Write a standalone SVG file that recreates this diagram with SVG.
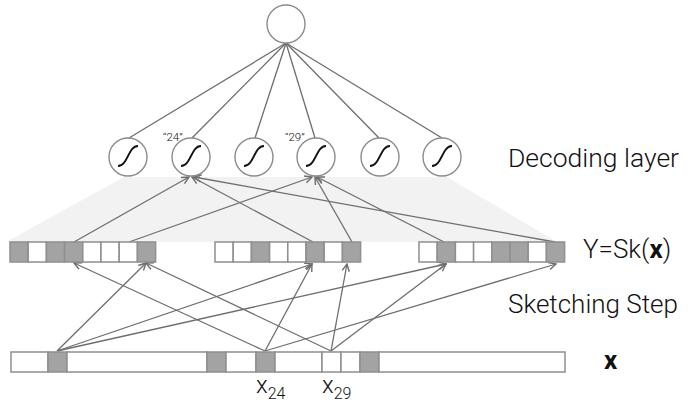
<svg xmlns="http://www.w3.org/2000/svg" width="692" height="407" viewBox="0 0 692 407">
<style>
.node circle{fill:#fff;stroke:#8c8c8c;stroke-width:1.4}
.sig{fill:none;stroke:#111;stroke-width:1.8}
.cw{fill:#fff;stroke:#8f8f8f;stroke-width:1.5}
.cg{fill:#a3a3a3;stroke:#8f8f8f;stroke-width:1.5}
.lbl{font-family:Roboto,"Liberation Sans",Arial,sans-serif;font-weight:300;fill:#111}
.b{font-weight:700}
#connectors line{stroke:#6e6e6e;stroke-width:1.3;fill:none}
#connectors .a{marker-end:url(#arr)}
</style>
<defs>
<marker id="arr" viewBox="0 0 10 10" refX="9" refY="5" markerWidth="9" markerHeight="9" orient="auto" markerUnits="userSpaceOnUse">
<path d="M1,1 L9,5 L1,9" fill="none" stroke="#6e6e6e" stroke-width="1.6"/>
</marker>
</defs>
<rect width="692" height="407" fill="#fff"/>
<polygon id="band" points="124,177 447,177 557,242 6,242" fill="#f2f2f2"/>

<g id="connectors">
<line x1="286" y1="43" x2="129" y2="138"/>
<line x1="286" y1="43" x2="192" y2="138"/>
<line x1="286" y1="43" x2="255" y2="138"/>
<line x1="286" y1="43" x2="315" y2="138"/>
<line x1="286" y1="43" x2="379" y2="138"/>
<line x1="286" y1="43" x2="442" y2="138"/>
<line class="a" x1="74" y1="242" x2="189" y2="177"/>
<line class="a" x1="313" y1="242" x2="192" y2="177"/>
<line class="a" x1="555" y1="242" x2="194" y2="177"/>
<line class="a" x1="129" y1="242" x2="312" y2="177"/>
<line class="a" x1="352" y1="242" x2="315" y2="177"/>
<line class="a" x1="444" y1="242" x2="317" y2="177"/>
<line class="a" x1="57" y1="351" x2="146" y2="263"/>
<line class="a" x1="57" y1="351" x2="312" y2="264"/>
<line class="a" x1="57" y1="351" x2="446" y2="264"/>
<line class="a" x1="265" y1="351" x2="74" y2="263"/>
<line class="a" x1="265" y1="351" x2="312" y2="264"/>
<line class="a" x1="265" y1="351" x2="556" y2="264"/>
<line class="a" x1="331" y1="351" x2="146" y2="263"/>
<line class="a" x1="331" y1="351" x2="347" y2="264"/>
<line class="a" x1="331" y1="351" x2="446" y2="264"/>
</g>

<g id="top" class="node"><circle cx="286" cy="24" r="19"/></g>

<g id="d1" class="node" transform="translate(128,157)"><circle r="19"/><path class="sig" d="M-10,9 C0,9 0,-11 10,-11"/></g>
<g id="d2" class="node" transform="translate(191,157)"><circle r="19"/><path class="sig" d="M-10,9 C0,9 0,-11 10,-11"/></g>
<g id="d3" class="node" transform="translate(254,157)"><circle r="19"/><path class="sig" d="M-10,9 C0,9 0,-11 10,-11"/></g>
<g id="d4" class="node" transform="translate(316,157)"><circle r="19"/><path class="sig" d="M-10,9 C0,9 0,-11 10,-11"/></g>
<g id="d5" class="node" transform="translate(380,157)"><circle r="19"/><path class="sig" d="M-10,9 C0,9 0,-11 10,-11"/></g>
<g id="d6" class="node" transform="translate(442,157)"><circle r="19"/><path class="sig" d="M-10,9 C0,9 0,-11 10,-11"/></g>

<g id="q24"><text class="lbl" x="163" y="141" font-size="11.5" fill="#222">“24”</text></g>
<g id="q29"><text class="lbl" x="285" y="141" font-size="11.5" fill="#222">“29”</text></g>

<g id="sk1">
<rect class="cg" x="10" y="242" width="18.2" height="20"/>
<rect class="cw" x="28.2" y="242" width="18.2" height="20"/>
<rect class="cg" x="46.4" y="242" width="18.2" height="20"/>
<rect class="cg" x="64.6" y="242" width="18.2" height="20"/>
<rect class="cw" x="82.8" y="242" width="18.2" height="20"/>
<rect class="cw" x="101" y="242" width="18.2" height="20"/>
<rect class="cw" x="119.2" y="242" width="18.2" height="20"/>
<rect class="cg" x="137.4" y="242" width="18.2" height="20"/>
</g>
<g id="sk2">
<rect class="cw" x="215" y="242" width="18.2" height="20"/>
<rect class="cw" x="233.2" y="242" width="18.2" height="20"/>
<rect class="cg" x="251.4" y="242" width="18.2" height="20"/>
<rect class="cw" x="269.6" y="242" width="18.2" height="20"/>
<rect class="cw" x="287.8" y="242" width="18.2" height="20"/>
<rect class="cg" x="306" y="242" width="18.2" height="20"/>
<rect class="cw" x="324.2" y="242" width="18.2" height="20"/>
<rect class="cg" x="342.4" y="242" width="18.2" height="20"/>
</g>
<g id="sk3">
<rect class="cw" x="419" y="242" width="18.2" height="20"/>
<rect class="cg" x="437.2" y="242" width="18.2" height="20"/>
<rect class="cw" x="455.4" y="242" width="18.2" height="20"/>
<rect class="cw" x="473.6" y="242" width="18.2" height="20"/>
<rect class="cg" x="491.8" y="242" width="18.2" height="20"/>
<rect class="cg" x="510" y="242" width="18.2" height="20"/>
<rect class="cw" x="528.2" y="242" width="18.2" height="20"/>
<rect class="cg" x="546.4" y="242" width="18.2" height="20"/>
</g>

<g id="xvec">
<rect class="cw" x="11" y="352" width="37" height="20"/>
<rect class="cg" x="48" y="352" width="19" height="20"/>
<rect class="cw" x="67" y="352" width="140" height="20"/>
<rect class="cg" x="207" y="352" width="19" height="20"/>
<rect class="cw" x="226" y="352" width="30" height="20"/>
<rect class="cg" x="256" y="352" width="19" height="20"/>
<rect class="cw" x="275" y="352" width="47" height="20"/>
<rect class="cw" x="322" y="352" width="19" height="20"/>
<rect class="cw" x="341" y="352" width="19" height="20"/>
<rect class="cg" x="360" y="352" width="19" height="20"/>
<rect class="cw" x="379" y="352" width="186" height="20"/>
</g>

<g id="x24"><text class="lbl" x="256" y="393" font-size="24">x<tspan font-size="16" dy="6">24</tspan></text></g>
<g id="x29"><text class="lbl" x="322" y="393" font-size="24">x<tspan font-size="16" dy="6">29</tspan></text></g>

<g id="lab-dec"><text class="lbl" x="508" y="167" font-size="26.5">Decoding layer</text></g>
<g id="lab-y"><text class="lbl" x="583" y="258" font-size="26">Y=Sk(<tspan class="b">x</tspan>)</text></g>
<g id="lab-sk"><text class="lbl" x="508" y="313" font-size="26">Sketching Step</text></g>
<g id="lab-x"><text class="lbl b" x="604" y="369" font-size="26">x</text></g>
</svg>
